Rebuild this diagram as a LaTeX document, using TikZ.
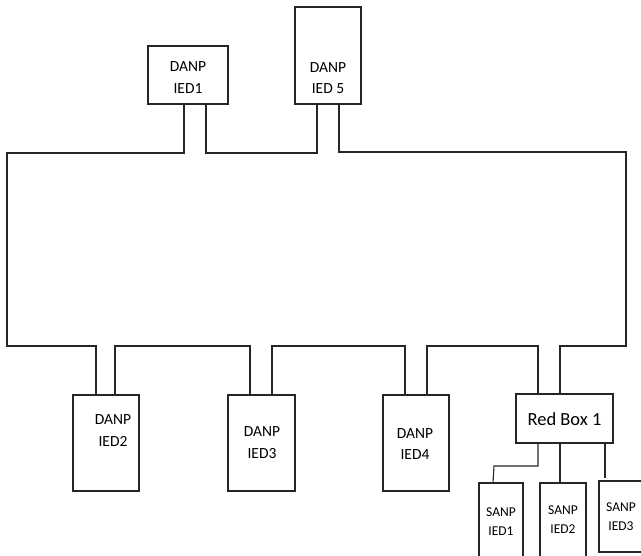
\documentclass[tikz,border=0pt]{standalone}
\usepackage{fontspec}
\setmainfont{Carlito}
\usetikzlibrary{calc}
\begin{document}
\begin{tikzpicture}[x=1pt,y=-1pt]
\tikzset{
  box/.style={draw=black!85, line width=1.1pt, inner sep=0pt, outer sep=0pt, anchor=north west},
  dtext/.style={align=center, inner sep=0pt, font=\fontsize{15.5}{21.5}\selectfont},
  stext/.style={align=center, inner sep=0pt, font=\fontsize{13.5}{19}\selectfont},
  wire/.style={draw=black!85, line width=1.1pt, line cap=rect}
}
\useasboundingbox (0,0) rectangle (641,556);
% boxes
\node[box, minimum width=80pt, minimum height=58pt] (ied1) at (148,46) {};
\node[box, minimum width=66pt, minimum height=97pt] (ied5) at (295,7) {};
\node[box, minimum width=66pt, minimum height=96pt] (ied2) at (73,395) {};
\node[box, minimum width=67pt, minimum height=96pt] (ied3) at (228,395) {};
\node[box, minimum width=66pt, minimum height=96pt] (ied4) at (383,395) {};
\node[box, minimum width=97pt, minimum height=49pt] (red) at (516,394) {};
\node[box, minimum width=44pt, minimum height=90pt] (san1) at (479,483) {};
\node[box, minimum width=46pt, minimum height=90pt] (san2) at (540,483) {};
\node[box, minimum width=45pt, minimum height=71pt] (san3) at (599,481) {};
% texts
\node[dtext] (t1) at (188,77.5) {DANP\\IED1};
\node[dtext] (t5) at (328,78) {DANP\\IED 5};
\node[dtext] (t2) at (113,430.5) {DANP\\IED2};
\node[dtext] (t3) at (262,442.5) {DANP\\IED3};
\node[dtext] (t4) at (415,444) {DANP\\IED4};
\node[inner sep=0pt, font=\fontsize{18.5}{22}\selectfont] (tr1) at (564.5,419) {Red Box 1};
\node[stext] (ts1) at (501,521.5) {SANP\\IED1};
\node[stext] (ts2) at (563,519.5) {SANP\\IED2};
\node[stext] (ts3) at (621,517) {SANP\\IED3};
% ring corners
\coordinate (tl) at (7,153);
\coordinate (tr) at (626,152);
\coordinate (bl) at (7,346);
\coordinate (br) at (626,346);
% ring
\draw[wire] ($(ied1.south west)+(36,0)$) |- (tl) -- (bl) -| ($(ied2.north west)+(23,0)$);
\draw[wire] ($(ied1.south west)+(58,0)$) -- ++(0,49) -| ($(ied5.south west)+(22,0)$);
\draw[wire] ($(ied5.south west)+(44,0)$) |- (tr) -- (br) -| ($(red.north west)+(44,0)$);
\draw[wire] ($(red.north west)+(22,0)$) -- ++(0,-48) -| ($(ied4.north west)+(44,0)$);
\draw[wire] ($(ied4.north west)+(22,0)$) -- ++(0,-49) -| ($(ied3.north west)+(44,0)$);
\draw[wire] ($(ied3.north west)+(22,0)$) -- ++(0,-49) -| ($(ied2.north west)+(42,0)$);
% red box to SANPs
\coordinate (s3end) at (605,477);
\draw[wire] ($(red.south west)+(22,0)$) -- ++(0,23) -- ($(san1.north west)+(15,-17)$) -- ($(san1.north west)+(14,0)$);
\draw[wire] ($(red.south west)+(44,0)$) -- ($(san2.north west)+(20,0)$);
\draw[wire] ($(red.south west)+(89,0)$) -- (s3end);
\end{tikzpicture}
\end{document}
